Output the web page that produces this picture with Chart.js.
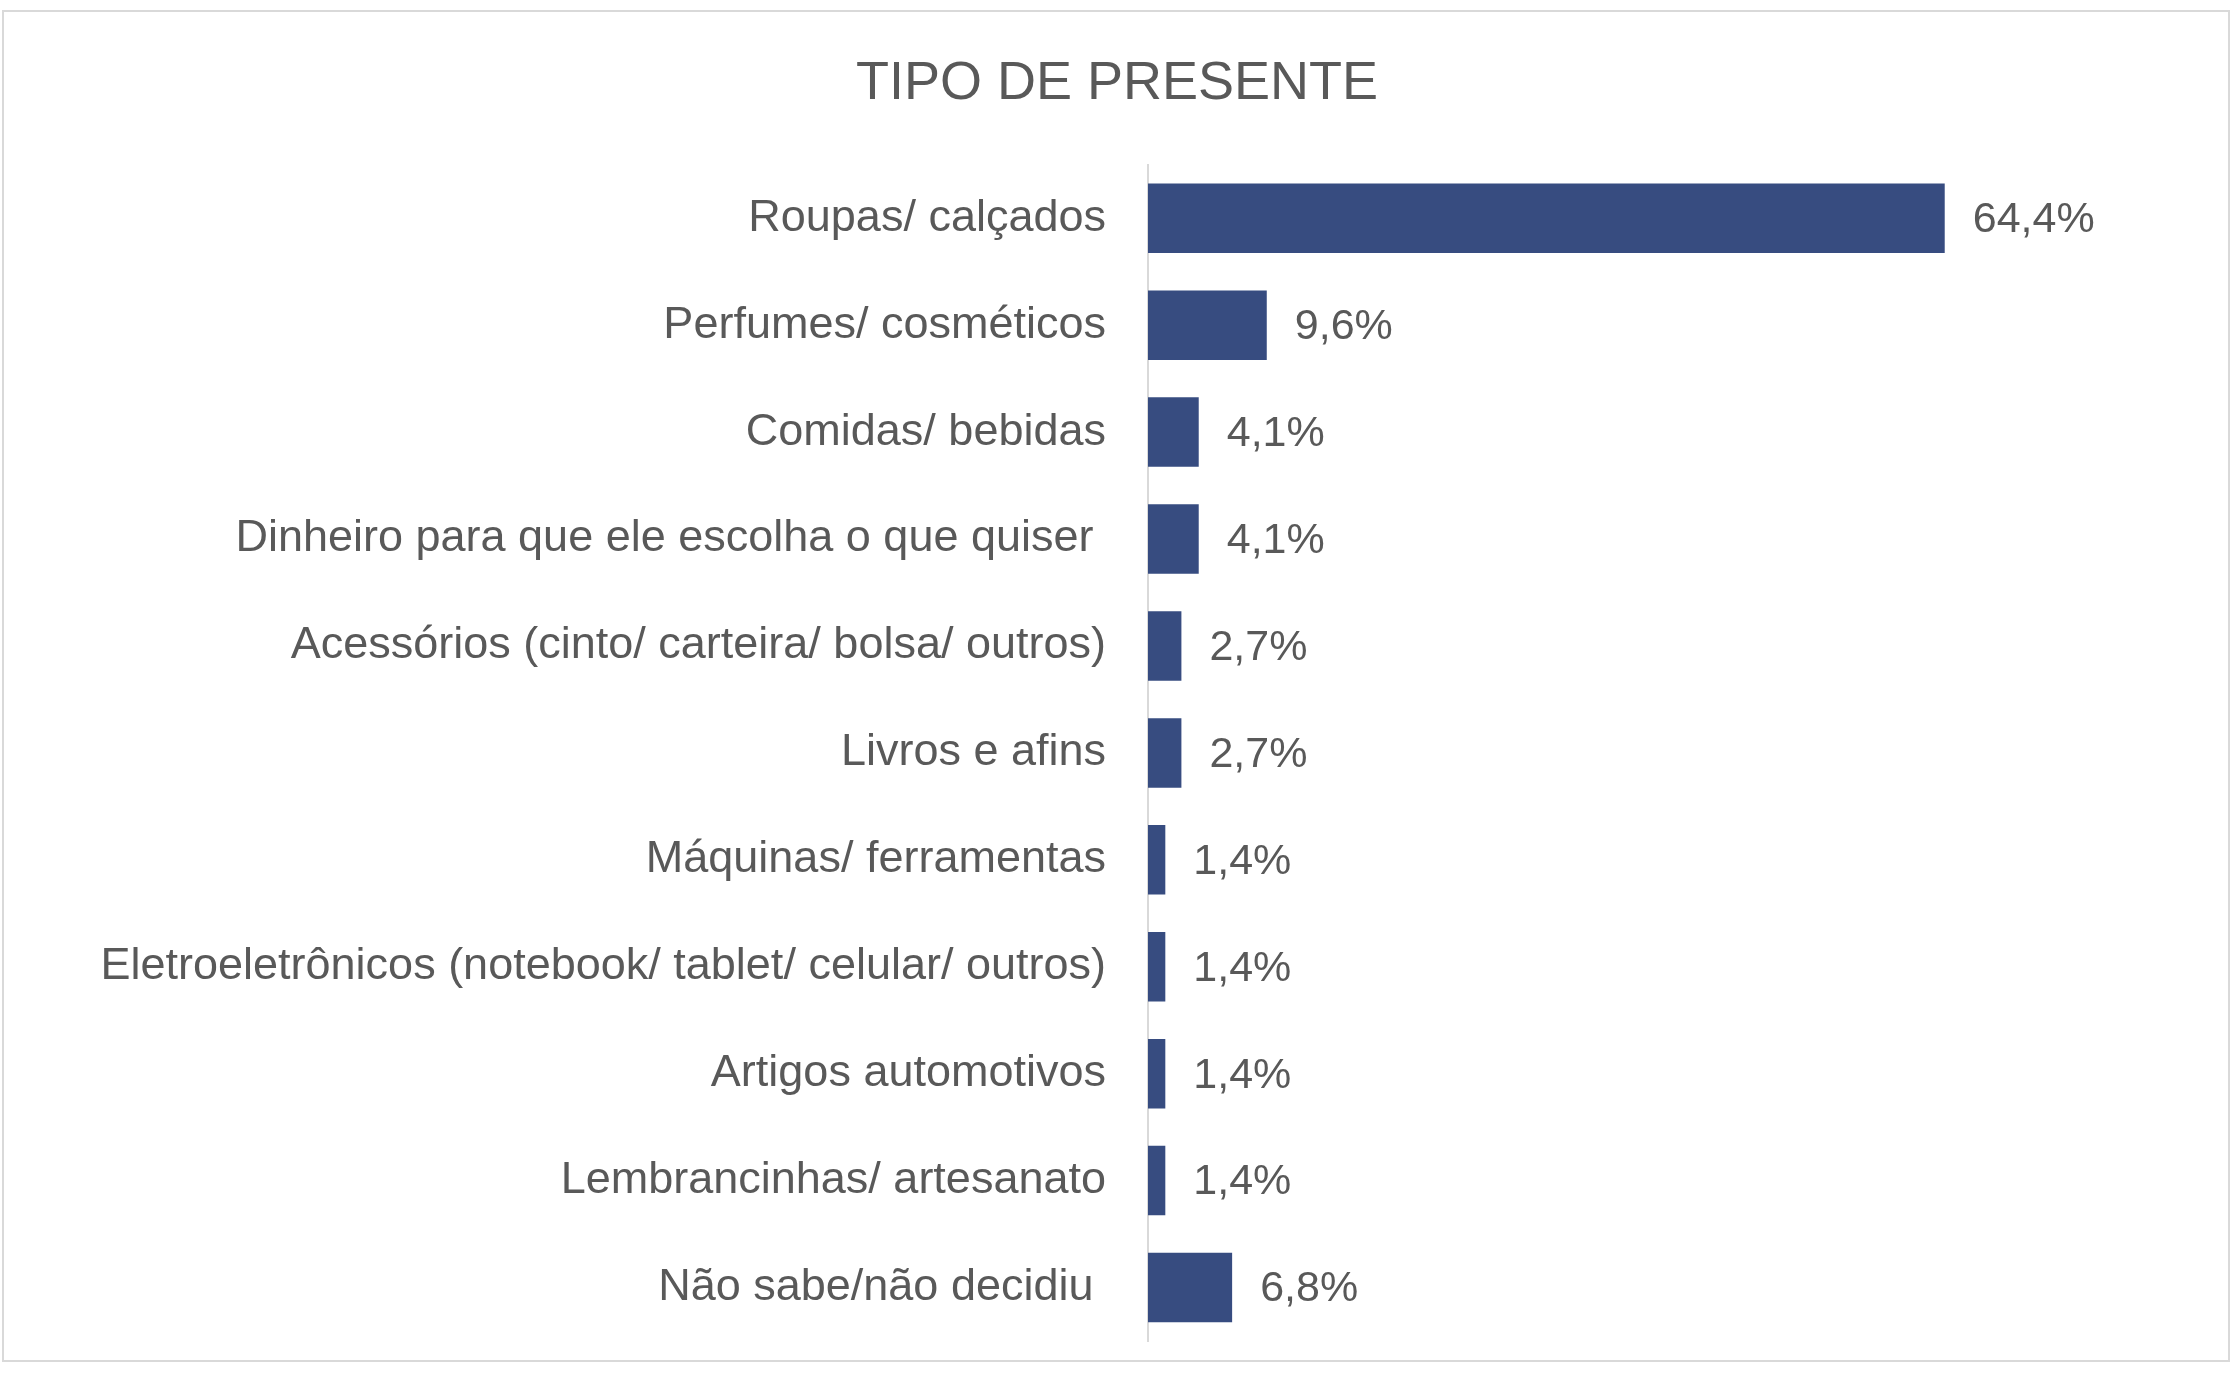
<!DOCTYPE html>
<html>
<head>
<meta charset="utf-8">
<script src="https://cdn.jsdelivr.net/npm/chart.js@4.4.1/dist/chart.umd.min.js"></script>
<style>
  html, body { margin: 0; padding: 0; background: #fff; }
  #wrap { position: relative; width: 2234px; height: 1377px; }
  #frame { position: absolute; left: 2px; top: 10px; width: 2224px; height: 1348px; border: 2px solid #d9d9d9; }
  #chart { position: absolute; left: 0; top: 0; }
</style>
</head>
<body>
<div id="wrap">
  <div id="frame"></div>
  <canvas id="chart" width="2234" height="1377"></canvas>
</div>
<script>
const categories = [
  'Roupas/ calçados',
  'Perfumes/ cosméticos',
  'Comidas/ bebidas',
  'Dinheiro para que ele escolha o que quiser ',
  'Acessórios (cinto/ carteira/ bolsa/ outros)',
  'Livros e afins',
  'Máquinas/ ferramentas',
  'Eletroeletrônicos (notebook/ tablet/ celular/ outros)',
  'Artigos automotivos',
  'Lembrancinhas/ artesanato',
  'Não sabe/não decidiu '
];
const shares = [64.4, 9.6, 4.1, 4.1, 2.7, 2.7, 1.4, 1.4, 1.4, 1.4, 6.8];

const textColor = '#595959';
const fontFamily = '"Liberation Sans", Arial, sans-serif';

// value labels to the right of each bar
const barLabels = {
  id: 'barLabels',
  afterDatasetsDraw(chart) {
    const ctx = chart.ctx;
    const meta = chart.getDatasetMeta(0);
    ctx.save();
    ctx.font = '43px ' + fontFamily;
    ctx.fillStyle = textColor;
    ctx.textAlign = 'left';
    ctx.textBaseline = 'middle';
    meta.data.forEach((bar, i) => {
      const txt = shares[i].toFixed(1).replace('.', ',') + '%';
      ctx.fillText(txt, bar.x + 28, bar.y + 2);
    });
    ctx.restore();
  }
};

new Chart(document.getElementById('chart'), {
  type: 'bar',
  data: {
    labels: categories,
    datasets: [{
      data: shares,
      backgroundColor: '#374C80',
      borderWidth: 0,
      categoryPercentage: 1,
      barPercentage: 0.65
    }]
  },
  options: {
    indexAxis: 'y',
    responsive: false,
    animation: false,
    layout: { padding: { left: 0, right: 0, top: 52, bottom: 36 } },
    plugins: {
      legend: { display: false },
      tooltip: { enabled: false },
      title: {
        display: true,
        text: 'TIPO DE PRESENTE',
        color: textColor,
        font: { family: fontFamily, size: 54, weight: 'normal' },
        padding: { top: 0, bottom: 48 }
      }
    },
    scales: {
      x: {
        display: false,
        min: 0,
        max: 70
      },
      y: {
        grid: { display: false },
        border: { display: true, color: '#d9d9d9', width: 2 },
        ticks: {
          color: textColor,
          padding: 34,
          font: { family: fontFamily, size: 45 }
        },
        afterFit: s => { s.width = 1148; s.paddingTop = 0; s.paddingBottom = 0; }
      },
      // empty right-hand strip so the title stays centred on the whole canvas
      y2: {
        position: 'right',
        grid: { display: false },
        border: { display: false },
        ticks: { display: false },
        afterFit: s => { s.width = 220; s.paddingTop = 0; s.paddingBottom = 0; }
      }
    }
  },
  plugins: [barLabels]
});
</script>
</body>
</html>
